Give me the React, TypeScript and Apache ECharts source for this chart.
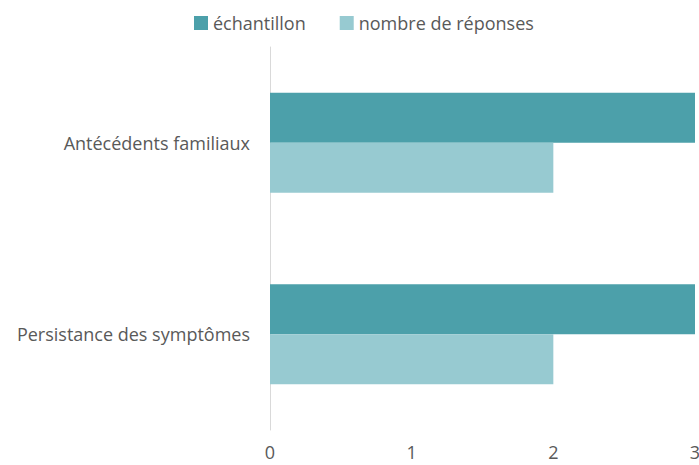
import React, { useEffect, useRef } from "react";
import * as echarts from "echarts";

const categories = ["Antécédents familiaux", "Persistance des symptômes"];
const echantillon = [3, 3];
const nombreReponses = [2, 2];
const xTicks = [0, 1, 2, 3];

export default function App() {
  const ref = useRef<HTMLDivElement>(null);
  useEffect(() => {
    if (!ref.current) return;
    const chart = echarts.init(ref.current, null, { renderer: "svg" });
    const font = "'Open Sans', sans-serif";
    chart.setOption({
      animation: false,
      textStyle: { fontFamily: font },
      legend: {
        top: 9,
        left: 189,
        itemWidth: 14,
        itemHeight: 14,
        itemGap: 34,
        icon: "rect",
        textStyle: { color: "#595959", fontSize: 18, fontFamily: font },
        data: ["échantillon", "nombre de réponses"],
      },
      grid: {
        left: 270,
        right: 4,
        top: 47,
        bottom: 35,
        containLabel: false,
        outerBoundsMode: "none",
      },
      xAxis: {
        type: "value",
        min: xTicks[0],
        max: xTicks[xTicks.length - 1],
        interval: 1,
        axisLine: { show: false },
        axisTick: { show: false },
        splitLine: { show: false },
        axisLabel: { color: "#595959", fontSize: 18, margin: 13, fontFamily: font },
      },
      yAxis: {
        type: "category",
        data: categories,
        inverse: true,
        axisLine: { show: true, lineStyle: { color: "#d9d9d9", width: 1 } },
        axisTick: { show: false },
        axisLabel: { color: "#595959", fontSize: 18, margin: 20, fontFamily: font },
      },
      series: [
        {
          name: "échantillon",
          type: "bar",
          data: echantillon,
          barGap: "0%",
          barCategoryGap: "47.8%",
          itemStyle: { color: "#4ca0aa" },
        },
        {
          name: "nombre de réponses",
          type: "bar",
          data: nombreReponses,
          barGap: "0%",
          barCategoryGap: "47.8%",
          itemStyle: { color: "#97cad1" },
        },
      ],
    });
    return () => chart.dispose();
  }, []);
  return <div ref={ref} style={{ width: 699, height: 465, position: "absolute", left: 0, top: 0 }} />;
}
